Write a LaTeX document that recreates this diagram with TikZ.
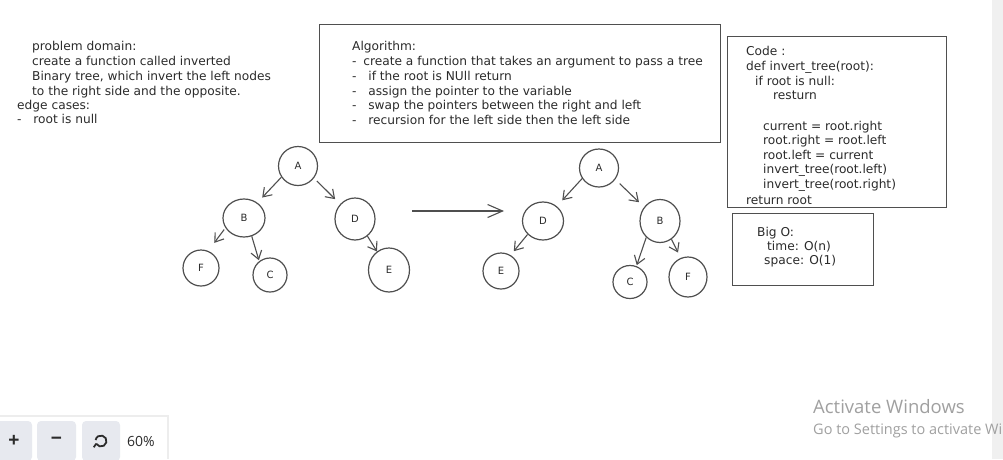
\documentclass[tikz,border=0pt]{standalone}
\usepackage{fontspec}
\setmainfont{DejaVu Sans}
\newfontfamily\uifont{Open Sans}
\newfontfamily\btnfont{Liberation Sans}
\usetikzlibrary{arrows.meta,shapes.geometric}
\definecolor{ink}{HTML}{2B2B2B}
\definecolor{stroke}{HTML}{4F4F4F}
\definecolor{btn}{HTML}{E7E9EF}
\definecolor{strip}{HTML}{F0F0F0}
\definecolor{wm}{HTML}{A0A0A0}
\begin{document}
\begin{tikzpicture}[x=1pt,y=-1pt,
  txt/.style={anchor=base west, inner sep=0pt, text=ink, font=\fontsize{12.2}{14}\selectfont},
  tnode/.style={ellipse, draw=stroke, line width=1.2pt, inner sep=0pt, font=\fontsize{10}{10}\selectfont, text=ink},
  treearrow/.style={draw=stroke, line width=1.1pt, -{Straight Barb[length=8pt,width=11pt]}},
  boxframe/.style={draw=stroke, line width=1.3pt, inner sep=0pt, anchor=north west},
  uibtn/.style={fill=btn, rounded corners=4pt, inner sep=0pt, minimum height=40pt, text=ink, font=\btnfont\bfseries\fontsize{19}{19}\selectfont},
  wmtext/.style={anchor=base west, inner sep=0pt, text=wm},
]
\clip (0,0) rectangle (1003,459);
\fill[white] (0,0) rectangle (1003,459);
\fill[strip] (992,0) rectangle (1003,459);

% ---------- left notes ----------
\node[txt] (pd1) at (32,50) {problem domain:};
\node[txt] (pd2) at (32,65) {create a function called inverted};
\node[txt] (pd3) at (32,80) {Binary tree, which invert the left nodes};
\node[txt] (pd4) at (32,95) {to the right side and the opposite.};
\node[txt] (ec1) at (17,109) {edge cases:};
\node[txt] (ec2) at (17,123) {- \hspace{7.9pt}root is null};

% ---------- algorithm box ----------
\node[boxframe, minimum width=401pt, minimum height=118pt] (algbox) at (319,24) {};
\node[txt] (al0) at (352,50) {Algorithm:};
\node[txt] (al1) at (352,65) {- \hspace{2.9pt}create a function that takes an argument to pass a tree};
\node[txt] (al2) at (352,80) {- \hspace{7.9pt}if the root is NUll return};
\node[txt] (al3) at (352,95) {- \hspace{7.9pt}assign the pointer to the variable};
\node[txt] (al4) at (352,109.5) {- \hspace{7.9pt}swap the pointers between the right and left};
\node[txt] (al5) at (352,124) {- \hspace{7.9pt}recursion for the left side then the left side};

% ---------- code box ----------
\node[boxframe, minimum width=219pt, minimum height=171pt] (codebox) at (727,36) {};
\node[txt] (cd0) at (746,55) {Code :};
\node[txt] (cd1) at (746,70) {def invert\_tree(root):};
\node[txt] (cd2) at (755,85) {if root is null:};
\node[txt] (cd3) at (773,99) {resturn};
\node[txt] (cd4) at (763,130) {current = root.right};
\node[txt] (cd5) at (763,144) {root.right = root.left};
\node[txt] (cd6) at (763,159) {root.left = current};
\node[txt] (cd7) at (763,173) {invert\_tree(root.left)};
\node[txt] (cd8) at (763,188) {invert\_tree(root.right)};
\node[txt] (cd9) at (746,204) {return root};

% ---------- big O box ----------
\node[boxframe, minimum width=141pt, minimum height=72pt] (bigobox) at (732,213) {};
\node[txt] (bo0) at (757,236) {Big O:};
\node[txt] (bo1) at (767,250) {time: O(n)};
\node[txt] (bo2) at (764,264) {space: O(1)};

% ---------- left tree ----------
\node[tnode, minimum width=39pt, minimum height=39pt] (A1) at (298,166) {A};
\node[tnode, minimum width=42pt, minimum height=38pt] (B1) at (244,218) {B};
\node[tnode, minimum width=36pt, minimum height=36pt] (F1) at (201,268) {F};
\node[tnode, minimum width=34pt, minimum height=34pt] (C1) at (270,275) {C};
\node[tnode, minimum width=40pt, minimum height=42pt] (D1) at (355,219) {D};
\node[tnode, minimum width=41pt, minimum height=44pt] (E1) at (389,270) {E};

\draw[treearrow, shorten >=7pt] (A1.214) -- (B1.49);
\draw[treearrow, shorten <=4pt, shorten >=7pt] (A1.323) -- (D1.135);
\draw[treearrow, shorten <=2pt, shorten >=10pt] (B1.208) -- (F1.67);
\draw[treearrow, shorten >=1pt] (B1.293) -- (C1.128);
\draw[treearrow] (D1.306) -- (E1.123);

% ---------- transform arrow ----------
\coordinate (arrS) at (412,211);
\coordinate (arrE) at (504,211);
\draw[draw=stroke, line width=1.1pt, -{Straight Barb[length=15pt,width=13pt]}] (arrS) -- (arrE);

% ---------- right tree ----------
\node[tnode, minimum width=39pt, minimum height=38pt] (A2) at (599,168) {A};
\node[tnode, minimum width=41pt, minimum height=38pt] (D2) at (543,221) {D};
\node[tnode, minimum width=36pt, minimum height=36pt] (E2) at (501,271) {E};
\node[tnode, minimum width=40pt, minimum height=43pt] (B2) at (660,221) {B};
\node[tnode, minimum width=34pt, minimum height=33pt] (C2) at (630,282) {C};
\node[tnode, minimum width=38pt, minimum height=40pt] (F2) at (688,277) {F};

\draw[treearrow, shorten >=8pt] (A2.212) -- (D2.47);
\draw[treearrow, shorten <=6pt, shorten >=7pt] (A2.325) -- (B2.139);
\draw[treearrow, shorten >=5pt] (D2.221) -- (E2.59);
\draw[treearrow, shorten >=1pt] (B2.230) -- (C2.68);
\draw[treearrow, shorten >=6pt] (B2.302) -- (F2.111);

% ---------- zoom panel ----------
\fill[black!7] (0,415) rectangle (169,459);
\fill[white] (0,417) rectangle (167,459);
\node[uibtn, minimum width=36pt] (zin) at (14,441) {+};
\node[uibtn, minimum width=39pt] (zout) at (56.5,441) {\textminus};
\node[uibtn, minimum width=38pt] (zreset) at (101,441) {};
\draw[ink, line width=1.8pt] ([shift={(-150:5.5pt)}]zreset.center) arc[start angle=-150, end angle=170, radius=5.5pt];
\draw[ink, line width=1.8pt] ([shift={(-150:5.5pt)}]zreset.center) -- ++(-2.5,3.5);
\node[anchor=west, inner sep=0pt, text=ink, font=\uifont\fontsize{14}{14}\selectfont] (zlvl) at (127,441) {60\%};

% ---------- watermark ----------
\node[wmtext, font=\uifont\fontsize{18.5}{18.5}\selectfont] (wm1) at (813,413) {Activate Windows};
\node[wmtext, font=\uifont\fontsize{14.5}{14.5}\selectfont] (wm2) at (813,434) {Go to Settings to activate Wi};
\end{tikzpicture}
\end{document}
